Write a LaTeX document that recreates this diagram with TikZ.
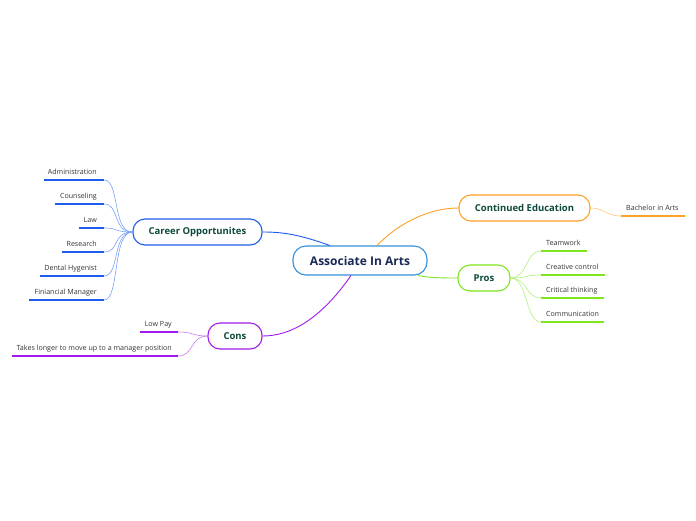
\documentclass[tikz,border=0pt]{standalone}
\usepackage{fontspec}
\setmainfont{Open Sans}
\definecolor{cblue}{HTML}{1E5CF0}
\definecolor{cbluel}{HTML}{7AA2F8}
\definecolor{corange}{HTML}{FFA126}
\definecolor{corangel}{HTML}{FFC67A}
\definecolor{cgreen}{HTML}{7EE61E}
\definecolor{cgreenl}{HTML}{B2F07A}
\definecolor{cpurple}{HTML}{A21AF0}
\definecolor{cpurplel}{HTML}{C77AF5}
\definecolor{ccenter}{HTML}{3390DA}
\definecolor{ctextc}{HTML}{1A2A55}
\definecolor{ctextb}{HTML}{0E4A3C}
\definecolor{ctext}{HTML}{333333}
\begin{document}
\begin{tikzpicture}[x=1pt,y=-1pt,
  centerbox/.style={draw=ccenter,line width=1.1pt,rounded corners=13pt,minimum width=134pt,minimum height=29pt,inner sep=0pt,text=ctextc,font=\fontsize{12}{14}\selectfont\bfseries},
  branchbox/.style={draw=#1,line width=1.1pt,rounded corners=12pt,minimum height=26pt,inner sep=0pt,text=ctextb,font=\fontsize{9.5}{11}\selectfont\bfseries},
  leaf/.style={text=ctext,inner sep=0pt,font=\fontsize{7.1}{8.5}\selectfont},
  uline/.style={draw=#1,line width=1.6pt},
  conn/.style={draw=#1,line width=0.9pt},
  sub/.style={draw=#1,line width=0.6pt}]
\useasboundingbox (0,0) rectangle (696,520);
\fill[white] (0,0) rectangle (696,520);

% central
\node[centerbox] (center) at (360,260.5) {Associate In Arts};
% branches
\node[branchbox=cblue,minimum width=129pt] (career) at (197.5,232) {Career Opportunites};
\node[branchbox=corange,minimum width=131pt] (cont) at (524.5,208) {Continued Education};
\node[branchbox=cgreen,minimum width=52pt] (pros) at (484,278) {Pros};
\node[branchbox=cpurple,minimum width=54pt] (cons) at (235,336) {Cons};

% main connectors
\coordinate (cA) at (330,245.5);
\coordinate (cB) at (377,245.5);
\coordinate (cC) at (418,275.5);
\coordinate (cD) at (351,275.5);
\draw[conn=cblue] (cA) .. controls (300,235) and (285,232) .. (career.east);
\draw[conn=corange] (cB) .. controls (400,222) and (430,208) .. (cont.west);
\draw[conn=cgreen] (cC) .. controls (430,278) and (445,278) .. (pros.west);
\draw[conn=cpurple] (cD) .. controls (320,320) and (290,336) .. (cons.east);

% career children
\foreach \n/\t/\y/\xl in {a1/Administration/180/44, a2/Counseling/204/55, a3/Law/228/79, a4/Research/252/62, a5/Dental Hygenist/276/40, a6/Finiancial Manager/300/29}{
  \node[leaf,anchor=base east] (\n) at (97,\y-6) {\t};
  \coordinate (\n l) at (\xl,\y);
  \coordinate (\n r) at (104,\y);
  \draw[uline=cblue] (\n l) -- (\n r);
  \draw[sub=cbluel] (\n r) .. controls (120,\y) and (112,232) .. (career.west);
}

% continued education child
\node[leaf,anchor=base west] (b1) at (626,210) {Bachelor in Arts};
\coordinate (b1l) at (621,216);
\coordinate (b1r) at (685,216);
\draw[uline=corange] (b1l) -- (b1r);
\draw[sub=corangel] (cont.east) .. controls (605,208) and (605,216) .. (b1l);

% pros children
\foreach \n/\t/\y/\xr in {p1/Teamwork/251/587, p2/Creative control/275/605, p3/Critical thinking/298/604, p4/Communication/322/604}{
  \node[leaf,anchor=base west] (\n) at (546,\y-6) {\t};
  \coordinate (\n l) at (541,\y);
  \coordinate (\n r) at (\xr,\y);
  \draw[uline=cgreen] (\n l) -- (\n r);
  \draw[sub=cgreenl] (pros.east) .. controls (528,278) and (525,\y) .. (\n l);
}

% cons children
\node[leaf,anchor=base east] (k1) at (172,326) {Low Pay};
\coordinate (k1l) at (140,332);
\coordinate (k1r) at (178,332);
\draw[uline=cpurple] (k1l) -- (k1r);
\draw[sub=cpurplel] (k1r) .. controls (194,332) and (192,336) .. (cons.west);
\node[leaf,anchor=base east] (k2) at (172,350) {Takes longer to move up to a manager position};
\coordinate (k2l) at (12,356);
\coordinate (k2r) at (178,356);
\draw[uline=cpurple] (k2l) -- (k2r);
\draw[sub=cpurplel] (k2r) .. controls (194,356) and (190,336) .. (cons.west);
\end{tikzpicture}
\end{document}
